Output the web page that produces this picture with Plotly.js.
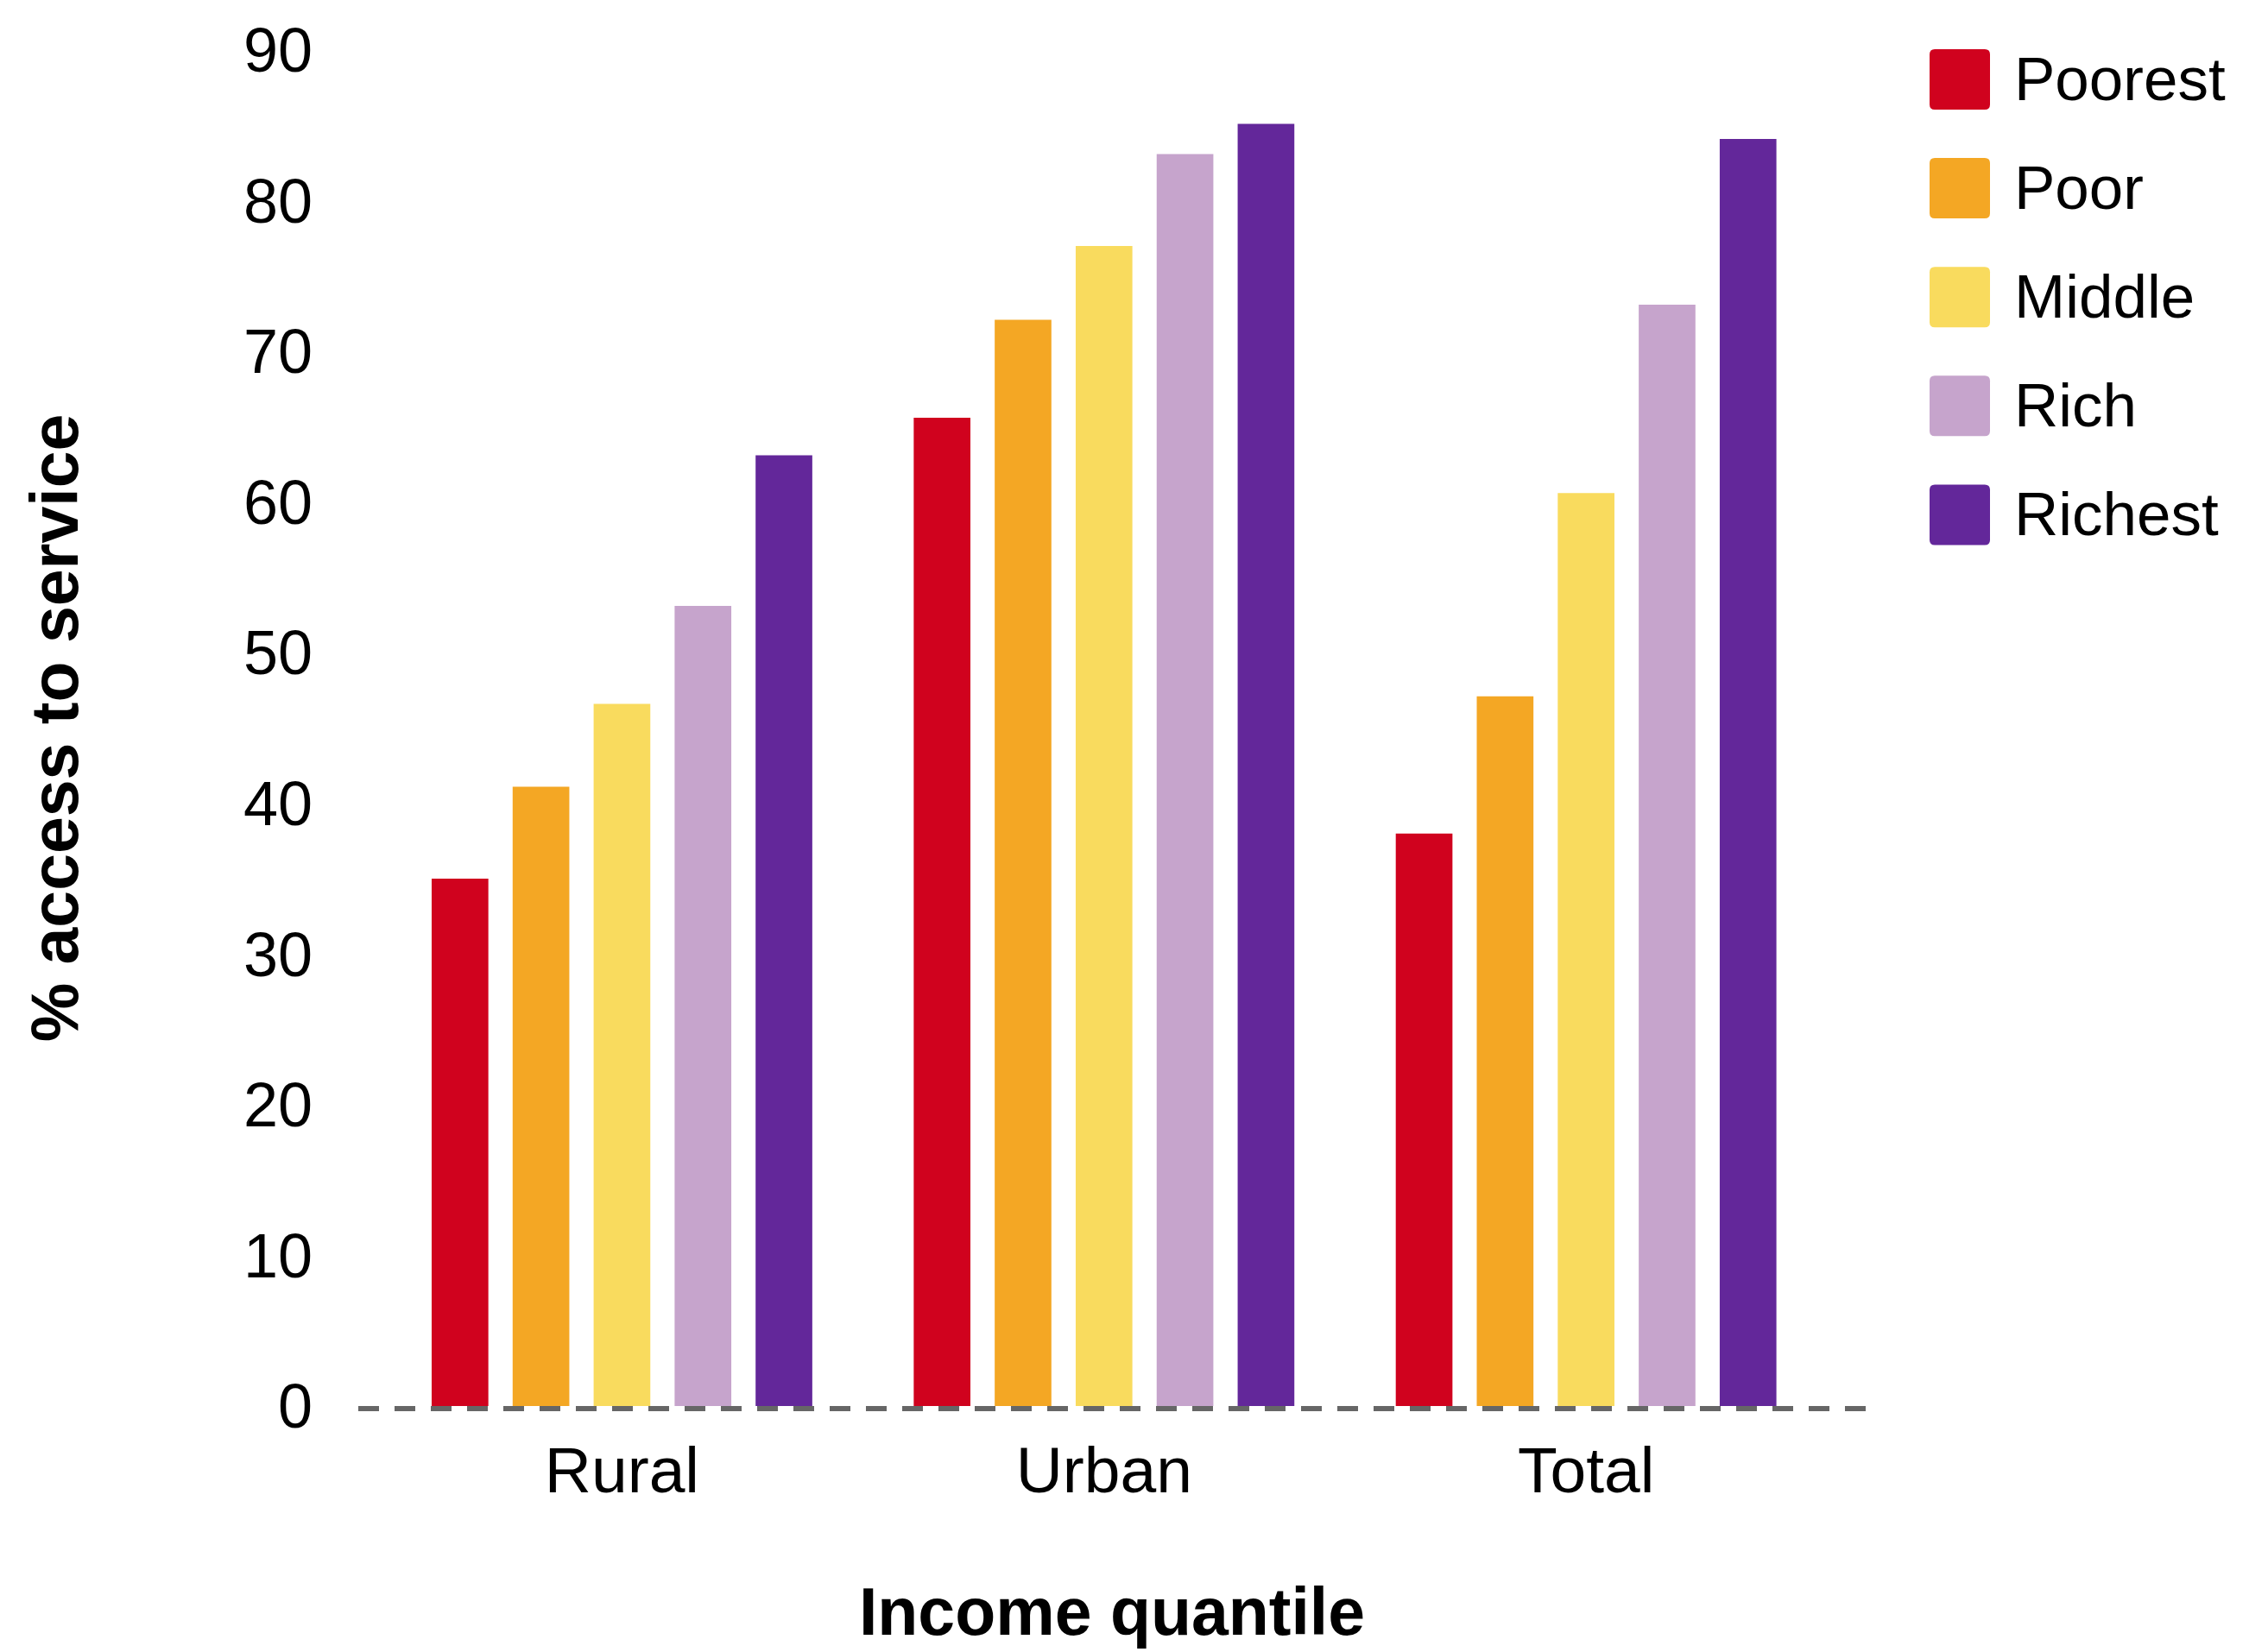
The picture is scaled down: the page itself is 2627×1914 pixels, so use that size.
<!DOCTYPE html>
<html>
<head>
<meta charset="utf-8">
<script src="https://cdn.plot.ly/plotly-3.0.1.min.js"></script>
<style>html,body{margin:0;padding:0;background:#fff;}#chart{width:2627px;height:1914px;}</style>
</head>
<body>
<div id="chart"></div>
<script>
// ---- data ----
const categories = ["Rural", "Urban", "Total"];
const quantiles = ["Poorest", "Poor", "Middle", "Rich", "Richest"];
const poorest = [35.0, 65.6, 38.0];
const poor    = [41.1, 72.1, 47.1];
const middle  = [46.6, 77.0, 60.6];
const rich    = [53.1, 83.1, 73.1];
const richest = [63.1, 85.1, 84.1];
const yTicks = [0, 10, 20, 30, 40, 50, 60, 70, 80, 90];

// ---- styles ----
const colors = ["#D0021E", "#F4A724", "#F9DB5E", "#C6A4CC", "#63279A"];
const seriesValues = [poorest, poor, middle, rich, richest];
const FONT = "Liberation Sans, Arial, Helvetica, sans-serif";

const W = 2627, H = 1914;
const M = {l: 415, r: 466, t: 58, b: 285};
const plotW = W - M.l - M.r, plotH = H - M.t - M.b;
const px2x = p => (p - M.l) / plotW;
const px2y = p => (H - M.b - p) / plotH;

const traces = quantiles.map((q, i) => ({
  type: "bar",
  name: q,
  x: categories,
  y: seriesValues[i],
  marker: {color: colors[i], line: {width: 0}},
  showlegend: false,
  hoverinfo: "x+y+name"
}));

// Legend drawn with shapes + annotations
const legendShapes = [];
const legendAnn = [];
const rowCenter0 = 92, rowStep = 126.1, swL = 2235, swR = 2305, swHalf = 35, txtL = 2331;
quantiles.forEach((q, i) => {
  const cy = rowCenter0 + i * rowStep;
  const r = 6;
  const x0 = px2x(swL), x1 = px2x(swR), y0 = px2y(cy + swHalf), y1 = px2y(cy - swHalf);
  const rx = r / plotW, ry = r / plotH;
  const path = `M ${x0+rx},${y1} L ${x1-rx},${y1} Q ${x1},${y1} ${x1},${y1-ry} L ${x1},${y0+ry} Q ${x1},${y0} ${x1-rx},${y0} L ${x0+rx},${y0} Q ${x0},${y0} ${x0},${y0+ry} L ${x0},${y1-ry} Q ${x0},${y1} ${x0+rx},${y1} Z`;
  legendShapes.push({type: "path", xref: "paper", yref: "paper", path: path,
    fillcolor: colors[i], line: {width: 0}});
  legendAnn.push({xref: "paper", yref: "paper", x: px2x(txtL), y: px2y(cy - 1),
    xanchor: "left", yanchor: "middle", text: q, showarrow: false,
    font: {family: FONT, size: 71, color: "#000"}});
});

const layout = {
  width: W, height: H,
  margin: M,
  paper_bgcolor: "#fff", plot_bgcolor: "#fff",
  barmode: "group",
  bargap: 0.16,
  bargroupgap: 0.3,
  showlegend: false,
  font: {family: FONT, color: "#000"},
  xaxis: {
    type: "category",
    range: [-0.547, 2.58],
    showgrid: false, zeroline: false, showline: false,
    ticks: "",
    ticklabelstandoff: 24,
    tickfont: {family: FONT, size: 75, color: "#000"},
    title: {text: "Income quantile", standoff: 96,
      font: {family: FONT, size: 77, color: "#000", weight: "bold"}},
    automargin: true
  },
  yaxis: {
    range: [0, 90],
    tickvals: yTicks,
    ticktext: yTicks.map(String),
    showgrid: false, zeroline: false, showline: false,
    ticks: "",
    ticklabelstandoff: 52,
    tickfont: {family: FONT, size: 72, color: "#000"},
    title: {text: "% access to service", standoff: 165,
      font: {family: FONT, size: 77, color: "#000", weight: "bold"}},
    automargin: true
  },
  shapes: [
    {type: "line", xref: "paper", yref: "paper", ysizemode: "pixel", yanchor: 0,
     x0: 0, x1: 1, y0: -3, y1: -3,
     line: {color: "#666666", width: 6, dash: "24px,18px"}, layer: "above"}
  ].concat(legendShapes),
  annotations: legendAnn
};

Plotly.newPlot("chart", traces, layout, {staticPlot: true, displayModeBar: false});
</script>
</body>
</html>
